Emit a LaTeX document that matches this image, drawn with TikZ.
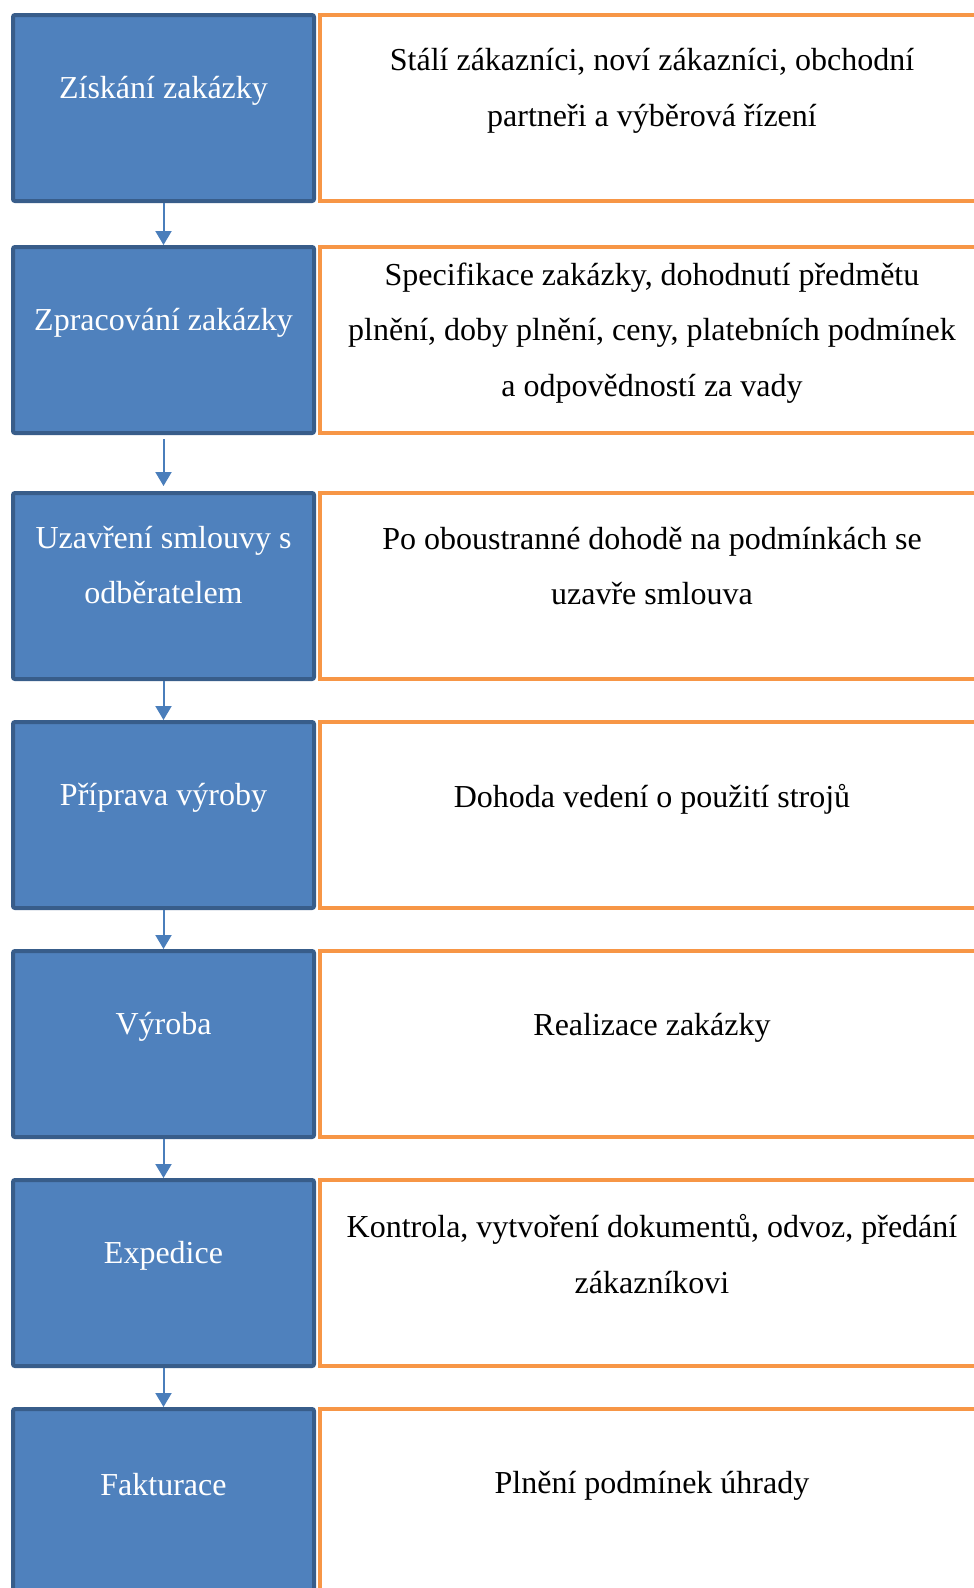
\documentclass[tikz,border=0pt]{standalone}
\usepackage{fontspec}
\setmainfont{Liberation Serif}
\usepackage{tikz}
\usetikzlibrary{arrows.meta}

\definecolor{phasefill}{HTML}{4F81BD}
\definecolor{phaseline}{HTML}{385D8A}
\definecolor{noteline}{HTML}{F79646}
\definecolor{arrowblue}{HTML}{4A7EBB}

\begin{document}
\begin{tikzpicture}[
  x=1pt, y=-1pt,
  font=\fontsize{32}{55.5}\selectfont,
  phase/.style={draw=phaseline, fill=phasefill, line width=4pt, rounded corners=2pt,
    anchor=north west, inner sep=0pt, minimum width=301pt, minimum height=186pt},
  note/.style={draw=noteline, fill=white, line width=4pt, anchor=north west,
    inner sep=0pt, minimum width=664pt, minimum height=186pt},
  ptxt/.style={anchor=center, yshift=-78pt, text=white, align=center},
  ntxt/.style={anchor=center, yshift=-79pt, align=center},
  arr/.style={-{Triangle[length=14pt, width=16pt]}, line width=2pt, draw=arrowblue}
]
\clip (0,0) rectangle (974,1588);
\fill[white] (0,0) rectangle (974,1588);

% left column: phases
\node[phase, label={[ptxt]north:Získání zakázky}] (zisk) at (11,13) {};
\node[phase, label={[ptxt]north:Zpracování zakázky}] (zprac) at (11,245) {};
\node[phase, label={[ptxt, yshift=4pt]north:Uzavření smlouvy s\\ odběratelem}] (smlouva) at (11,491) {};
\node[phase, label={[ptxt]north:Příprava výroby}] (priprava) at (11,720) {};
\node[phase, label={[ptxt]north:Výroba}] (vyroba) at (11,949) {};
\node[phase, label={[ptxt]north:Expedice}] (expedice) at (11,1178) {};
\node[phase, label={[ptxt]north:Fakturace}] (faktura) at (11,1407) {};

% right column: descriptions
\node[note, label={[ntxt, yshift=1pt]north:Stálí zákazníci, noví zákazníci, obchodní\\ partneři a výběrová řízení}] (zisk-txt) at (318,13) {};
\node[note, label={[ntxt, yshift=-9pt]north:Specifikace zakázky, dohodnutí předmětu\\ plnění, doby plnění, ceny, platebních podmínek\\ a odpovědností za vady}] (zprac-txt) at (318,245) {};
\node[note, label={[ntxt, yshift=4pt]north:Po oboustranné dohodě na podmínkách se\\ uzavře smlouva}] (smlouva-txt) at (318,491) {};
\node[note, label={[ntxt]north:Dohoda vedení o použití strojů}] (priprava-txt) at (318,720) {};
\node[note, label={[ntxt]north:Realizace zakázky}] (vyroba-txt) at (318,949) {};
\node[note, label={[ntxt, yshift=3pt]north:Kontrola, vytvoření dokumentů, odvoz, předání\\ zákazníkovi}] (expedice-txt) at (318,1178) {};
\node[note, label={[ntxt]north:Plnění podmínek úhrady}] (faktura-txt) at (318,1407) {};

% flow
\draw[arr] (zisk.south) -- (zprac.north);
\draw[arr, shorten <=4pt, shorten >=5pt] (zprac.south) -- (smlouva.north);
\draw[arr] (smlouva.south) -- (priprava.north);
\draw[arr] (priprava.south) -- (vyroba.north);
\draw[arr] (vyroba.south) -- (expedice.north);
\draw[arr] (expedice.south) -- (faktura.north);
\end{tikzpicture}
\end{document}
